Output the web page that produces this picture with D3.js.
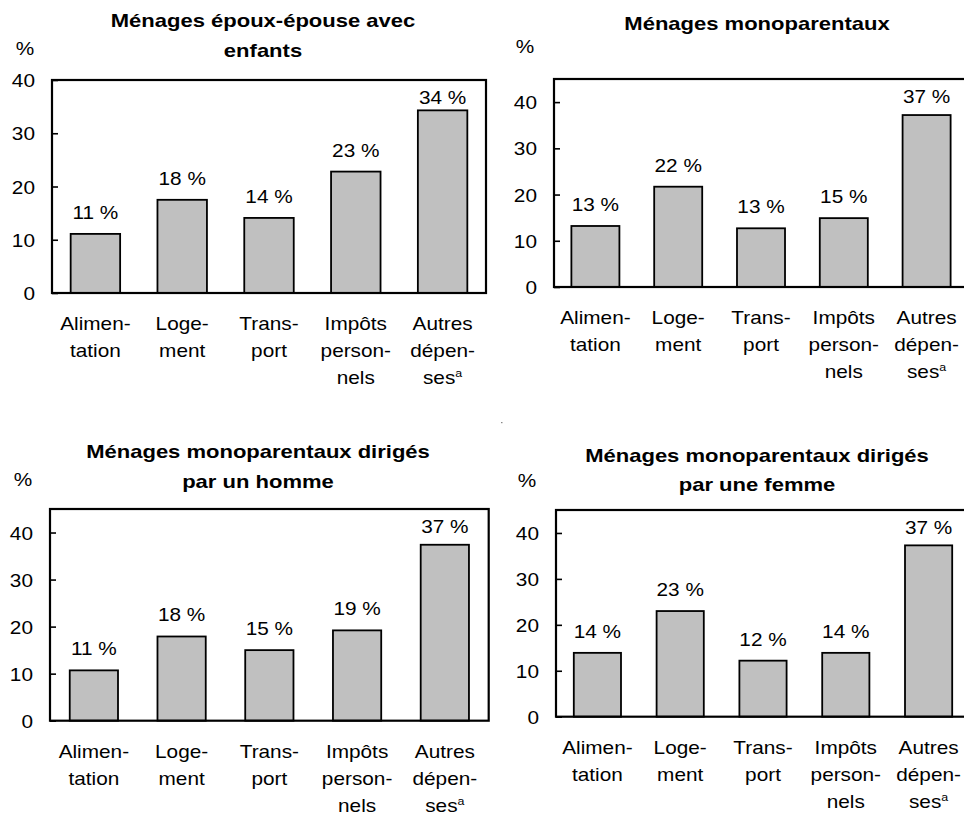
<!DOCTYPE html>
<html>
<head>
<meta charset="utf-8">
<script src="https://cdn.jsdelivr.net/npm/d3@7"></script>
<style>
  html, body { margin: 0; padding: 0; background: #fff; }
  svg { display: block; }
  text { font-family: "Liberation Sans", Arial, Helvetica, sans-serif; fill: #000; }
</style>
</head>
<body>
<svg id="chart" width="964" height="815"></svg>
<script>
// ---------- data ----------
const categories = [
  ["Alimen-", "tation"],
  ["Loge-", "ment"],
  ["Trans-", "port"],
  ["Impôts", "person-", "nels"],
  ["Autres", "dépen-", "ses"]
];
const footnoteMarks = ["", "", "", "", "a"];
const yTicks = [0, 10, 20, 30, 40];

const titles = [
  ["Ménages époux-épouse avec", "enfants"],
  ["Ménages monoparentaux"],
  ["Ménages monoparentaux dirigés", "par un homme"],
  ["Ménages monoparentaux dirigés", "par une femme"]
];

const valuesCouple     = [11.1, 17.5, 14.1, 22.8, 34.3];
const valuesMono       = [13.2, 21.7, 12.7, 14.9, 37.2];
const valuesMonoHomme  = [10.7, 17.9, 15.0, 19.2, 37.4];
const valuesMonoFemme  = [13.9, 23.0, 12.2, 13.9, 37.3];

const labelsCouple     = ["11 %", "18 %", "14 %", "23 %", "34 %"];
const labelsMono       = ["13 %", "22 %", "13 %", "15 %", "37 %"];
const labelsMonoHomme  = ["11 %", "18 %", "15 %", "19 %", "37 %"];
const labelsMonoFemme  = ["14 %", "23 %", "12 %", "14 %", "37 %"];

const yMax = [40, 45, 45, 45];

// ---------- layout (positions only) ----------
const layout = [
  {left: 52,  right: 486,   top: 80,  bottom: 293,   pad: 0.43, titleX: 263, titleY: [27, 57],       pctX: 25,  pctY: 55},
  {left: 554, right: 968,   top: 79,  bottom: 287,   pad: 0.42, titleX: 757, titleY: [30],           pctX: 525, pctY: 53},
  {left: 50,  right: 488.7, top: 509, bottom: 720.7, pad: 0.45, titleX: 258, titleY: [458, 488],     pctX: 23,  pctY: 486},
  {left: 556, right: 970,   top: 510, bottom: 716.7, pad: 0.43, titleX: 757, titleY: [461.7, 491],   pctX: 527, pctY: 486.5}
];

const panels = [
  {values: valuesCouple,    labels: labelsCouple},
  {values: valuesMono,      labels: labelsMono},
  {values: valuesMonoHomme, labels: labelsMonoHomme},
  {values: valuesMonoFemme, labels: labelsMonoFemme}
];

const SX = 1.13;       // horizontal stretch of the original figure's text
const SX_TITLE = 1.19;
const FS = 18.4;
const FS_TITLE = 18.5;

const svg = d3.select("#chart");

function addText(g, x, y, str, opts = {}) {
  const sx = opts.sx || SX;
  return g.append("text")
    .attr("transform", `translate(${x},${y}) scale(${sx},1)`)
    .attr("text-anchor", opts.anchor || "middle")
    .attr("font-size", opts.size || FS)
    .attr("font-weight", opts.weight || "normal")
    .text(str);
}

panels.forEach((p, pi) => {
  const L = layout[pi];
  const g = svg.append("g");

  const x = d3.scaleBand()
    .domain(categories.map((c, i) => i))
    .range([L.left, L.right])
    .paddingInner(L.pad)
    .paddingOuter(L.pad / 2);

  const y = d3.scaleLinear()
    .domain([0, yMax[pi]])
    .range([L.bottom, L.top]);

  // title
  titles[pi].forEach((line, li) => {
    addText(g, L.titleX, L.titleY[li], line, {size: FS_TITLE, weight: "bold", sx: SX_TITLE});
  });

  // unit label
  addText(g, L.pctX, L.pctY, "%");

  // y axis (inward ticks)
  const axis = d3.axisLeft(y)
    .tickValues(yTicks)
    .tickFormat(d3.format("d"))
    .tickSizeInner(-6)
    .tickSizeOuter(0);
  const ag = g.append("g")
    .attr("transform", `translate(${L.left},0)`)
    .call(axis);
  ag.select(".domain").remove();
  ag.selectAll(".tick line").attr("stroke", "#000").attr("stroke-width", 1.6);
  ag.selectAll(".tick text")
    .attr("x", null)
    .attr("dy", null)
    .attr("fill", "#000")
    .attr("font-size", FS)
    .attr("font-family", null)
    .attr("transform", `translate(-17,6.5) scale(${SX},1)`)
    .attr("text-anchor", "end");

  // bars
  g.selectAll("rect.bar")
    .data(p.values)
    .join("rect")
    .attr("class", "bar")
    .attr("x", (d, i) => x(i))
    .attr("width", x.bandwidth())
    .attr("y", d => y(d))
    .attr("height", d => y(0) - y(d))
    .attr("fill", "#c0c0c0")
    .attr("stroke", "#000")
    .attr("stroke-width", 1.8);

  // value labels
  p.values.forEach((v, i) => {
    const ly = Math.max(y(v) - 15, L.top + 24);
    addText(g, x(i) + x.bandwidth() / 2, ly, p.labels[i]);
  });

  // plot frame
  g.append("rect")
    .attr("x", L.left)
    .attr("y", L.top)
    .attr("width", L.right - L.left)
    .attr("height", L.bottom - L.top)
    .attr("fill", "none")
    .attr("stroke", "#000")
    .attr("stroke-width", 2.2);

  // category labels
  categories.forEach((lines, i) => {
    const cx = x(i) + x.bandwidth() / 2;
    lines.forEach((line, li) => {
      const t = addText(g, cx, L.bottom + 37 + li * 27, line);
      if (li === lines.length - 1 && footnoteMarks[i]) {
        t.append("tspan")
          .attr("font-size", 11)
          .attr("dy", -7)
          .text(footnoteMarks[i]);
      }
    });
  });
});

// small stray mark present in the original figure
svg.append("rect")
  .attr("x", 501).attr("y", 422)
  .attr("width", 1.5).attr("height", 1.2)
  .attr("fill", "#888");
</script>
</body>
</html>
